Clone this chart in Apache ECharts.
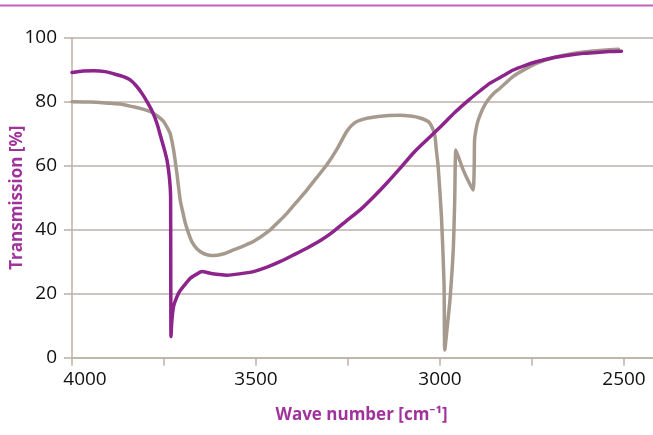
<!DOCTYPE html>
<html>
<head>
<meta charset="utf-8">
<script src="https://cdn.jsdelivr.net/npm/echarts@6/dist/echarts.min.js"></script>
<style>
html,body{margin:0;padding:0;background:#fff}
#chart{width:653px;height:435px}
</style>
</head>
<body>
<div id="chart"></div>
<script>
// grey trace
var waveGrey = [4000,3950,3896,3869,3833,3815,3787,3770,3760,3751,3738,3733,3724,3715,3706,3699,3692,3683,3674,3660,3643,3630,3616,3590,3561,3535,3507,3462,3440,3416,3390,3362,3335,3308,3280,3254,3240,3226,3200,3172,3140,3109,3080,3054,3035,3027,3020,3014,3010,3005,2996,2989,2987,2980,2973,2964,2960,2957,2950,2937,2920,2910,2907,2906,2901,2896,2885,2873,2855,2837,2801,2770,2738,2690,2646,2610,2575,2540,2515];
var transGrey = [80,79.9,79.5,79.3,78.4,77.9,76.9,75.7,74.8,73.8,71.2,70,65,57.6,49.3,45.5,42,38.8,36.2,34,32.6,32.1,31.9,32.4,33.7,34.9,36.3,39.9,42.3,45.1,48.6,52.4,56.3,60.2,65.2,70.6,72.6,73.8,74.8,75.3,75.7,75.8,75.5,74.9,74,73.2,71.6,69.5,65,59.7,44,23.2,2.4,10,18,33.7,49.3,64.9,62.8,58.7,54.5,52.4,59.7,68,72,74.3,77.5,80,82.5,84.2,87.9,90.1,92,93.8,94.9,95.5,95.9,96.2,96.4];
// purple trace
var wavePurple = [4000,3970,3941,3910,3880,3860,3842,3825,3810,3795,3780,3768,3760,3750,3742,3736,3733,3732,3731,3729,3724,3715,3706,3690,3679,3660,3647,3635,3625,3600,3579,3545,3507,3470,3435,3400,3362,3325,3290,3255,3217,3180,3145,3110,3073,3055,3000,2960,2919,2890,2864,2830,2801,2770,2738,2690,2646,2610,2575,2540,2507];
var transPurple = [89.1,89.6,89.7,89.4,88.5,87.8,86.8,84.9,82.6,79.8,76.5,72.8,69.5,65.5,61.8,57,53,50,6.6,11,16,19,21,23.3,24.8,26.2,26.9,26.7,26.4,26,25.8,26.2,26.9,28.3,30,32,34.2,36.6,39.4,42.7,46.2,50.3,54.5,59,63.9,66,72,76.6,80.8,83.5,85.8,88,89.9,91.3,92.5,93.8,94.6,95.1,95.4,95.7,95.8];
var xLabels = [4000,3500,3000,2500];
var yTicks = [0,20,40,60,80,100];

function pairs(xs, ys){
  return xs.map(function(x,i){ return [x, ys[i]]; });
}

var gridCol = '#bbb1a7';
var font = '"Open Sans", "Noto Sans", sans-serif';

var myChart = echarts.init(document.getElementById('chart'));
var option = {
  animation:false,
  grid:{ left:72, right:-63, top:37.7, bottom:77.3, outerBoundsMode:'none', containLabel:false },
  graphic:[{
    type:'line',
    shape:{x1:0,y1:5.5,x2:653,y2:5.5},
    style:{stroke:'#c162bb',lineWidth:2}
  }],
  xAxis:{
    type:'value',
    inverse:true,
    min:2250,
    max:4000,
    interval:250,
    name:'Wave number [cm⁻¹]',
    nameLocation:'middle',
    nameGap:49,
    nameMoveOverlap:false,
    nameTextStyle:{
      color:'#a0339b', fontSize:17, fontWeight:'bold', fontFamily:font,
      padding:[0,65,0,0]
    },
    axisLine:{ lineStyle:{ color:gridCol, width:1.5 } },
    axisTick:{ length:8, lineStyle:{ color:gridCol, width:1.5 } },
    axisLabel:{
      margin:12,
      color:'#111', fontSize:19, fontFamily:font,
      formatter:function(v){
        if (xLabels.indexOf(v) < 0) return '';
        if (v === 4000) return '{s|4000}';
        return String(v);
      },
      rich:{ s:{ color:'#111', fontSize:19, fontFamily:font, padding:[0,0,0,26] } }
    },
    splitLine:{ show:false }
  },
  yAxis:{
    type:'value',
    min:0,
    max:100,
    interval:20,
    name:'Transmission [%]',
    nameLocation:'middle',
    nameGap:46,
    nameMoveOverlap:false,
    nameTextStyle:{ color:'#a0339b', fontSize:17, fontWeight:'bold', fontFamily:font },
    axisLine:{ show:true, lineStyle:{ color:gridCol, width:1.5 } },
    axisTick:{ show:true, length:8, lineStyle:{ color:gridCol, width:1.5 } },
    axisLabel:{
      margin:15, color:'#111', fontSize:19, fontFamily:font,
      formatter:function(v){ return yTicks.indexOf(v) >= 0 ? String(v) : ''; }
    },
    splitLine:{ lineStyle:{ color:gridCol, width:1.5 } }
  },
  series:[{
    name:'grey',
    type:'line',
    data:pairs(waveGrey, transGrey),
    showSymbol:false,
    smooth:0.2,
    lineStyle:{ color:'#a69a8e', width:3.5, join:'round', cap:'round' }
  },{
    name:'purple',
    type:'line',
    data:pairs(wavePurple, transPurple),
    showSymbol:false,
    smooth:0.2,
    lineStyle:{ color:'#8c248c', width:3.5, join:'round', cap:'round' }
  }]
};
myChart.setOption(option);
</script>
</body>
</html>
